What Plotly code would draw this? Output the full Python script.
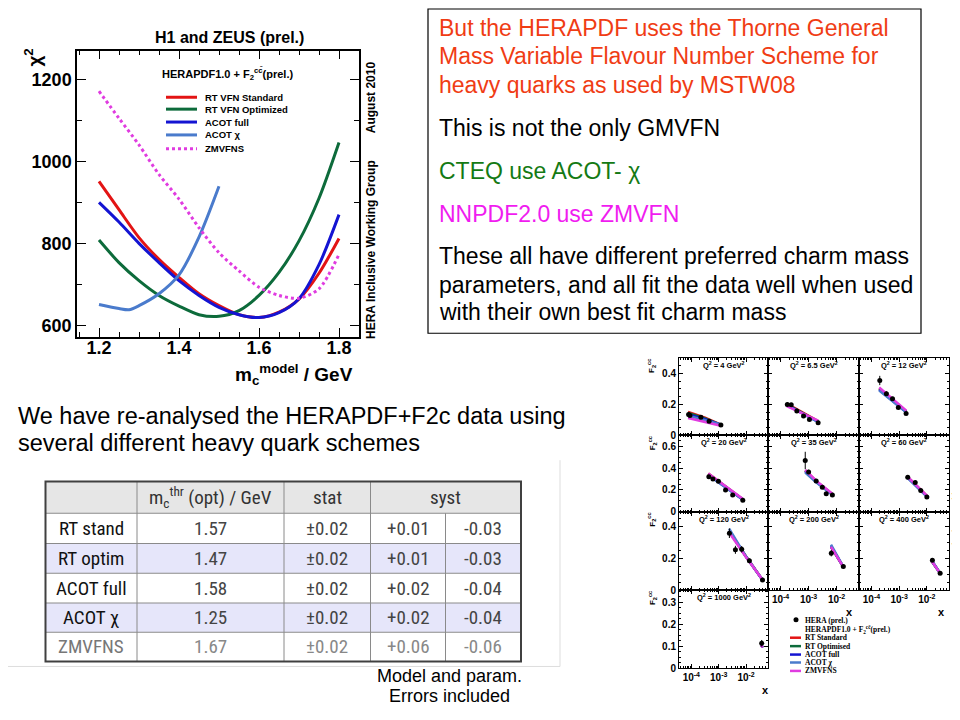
import plotly.graph_objects as go

W, H = 960, 720

def fx(px):
    return px / W

def fy(py):
    return 1 - py / H

# ---------------- main chi2 chart data ----------------
MC_MODEL = [1.20, 1.25, 1.30, 1.35, 1.40, 1.45, 1.50, 1.55, 1.60, 1.65, 1.70, 1.75, 1.80]
CHI2_RT_STANDARD = [951, 882, 814, 761, 717, 677, 648, 626, 619, 632, 664, 727, 812]
CHI2_RT_OPTIMIZED = [808, 753, 709, 673, 647, 626, 622, 636, 673, 729, 806, 910, 1046]
CHI2_ACOT_FULL = [900, 852, 800, 753, 709, 673, 644, 626, 619, 631, 665, 748, 870]
MC_ACOT_CHI = [1.20, 1.25, 1.275, 1.30, 1.35, 1.40, 1.45, 1.50]
CHI2_ACOT_CHI = [651, 641, 638, 648, 677, 723, 815, 939]
CHI2_ZMVFNS = [1171, 1105, 1040, 968, 908, 838, 777, 733, 693, 673, 666, 689, 773]
MAIN_XTICKS = [1.2, 1.4, 1.6, 1.8]
MAIN_YTICKS = [600, 800, 1000, 1200]

SCHEMES = ["RT VFN Standard", "RT VFN Optimized", "ACOT full", "ACOT χ", "ZMVFNS"]
SCHEMES_SHORT = ["RT Standard", "RT Optimised", "ACOT full", "ACOT χ", "ZMVFNS"]
COLORS = ["#e31414", "#0d6b3b", "#1414d2", "#4a7bcc", "#e03ce0"]

# ---------------- table data ----------------
TABLE_HEADER = ["", "m<sub>c</sub><sup>thr</sup> (opt) / GeV", "stat", "syst"]
TABLE_ROWS = ["RT stand", "RT optim", "ACOT full", "ACOT χ", "ZMVFNS"]
MC_OPT = ["1.57", "1.47", "1.58", "1.25", "1.67"]
STAT_ERR = ["±0.02", "±0.02", "±0.02", "±0.02", "±0.02"]
SYST_UP = ["+0.01", "+0.01", "+0.02", "+0.02", "+0.06"]
SYST_DN = ["-0.03", "-0.03", "-0.04", "-0.04", "-0.06"]

# ---------------- F2cc small multiples data ----------------
PANEL_Q2 = ["4", "6.5", "12", "20", "35", "60", "120", "200", "400", "1000"]
DATA_LOGX = [
    [-4.10, -4.05, -3.65, -3.35, -2.92],
    [-3.76, -3.62, -3.42, -3.18, -2.97, -2.66],
    [-3.70, -3.46, -3.24, -3.03, -2.75],
    [-3.36, -3.21, -3.01, -2.75, -2.49, -2.12],
    [-3.12, -3.00, -2.73, -2.51, -2.37, -2.15],
    [-2.69, -2.42, -2.22, -2.00],
    [-2.61, -2.39, -2.16, -1.88, -1.40],
    [-2.19, -1.76],
    [-1.80, -1.52],
    [-1.43],
]
DATA_F2 = [
    [0.135, 0.128, 0.118, 0.092, 0.068],
    [0.200, 0.198, 0.157, 0.125, 0.103, 0.082],
    [0.355, 0.270, 0.237, 0.180, 0.142],
    [0.320, 0.300, 0.280, 0.200, 0.153, 0.106],
    [0.470, 0.365, 0.283, 0.224, 0.165, 0.153],
    [0.316, 0.268, 0.195, 0.135],
    [0.356, 0.252, 0.256, 0.183, 0.064],
    [0.231, 0.148],
    [0.186, 0.106],
    [0.114],
]
DATA_ERR = [
    [0.015, 0.010, 0.010, 0.008, 0.006],
    [0.012, 0.010, 0.010, 0.008, 0.008, 0.007],
    [0.030, 0.015, 0.012, 0.010, 0.010],
    [0.020, 0.015, 0.012, 0.012, 0.010, 0.008],
    [0.080, 0.020, 0.015, 0.012, 0.012, 0.010],
    [0.015, 0.012, 0.010, 0.010],
    [0.030, 0.025, 0.020, 0.015, 0.008],
    [0.020, 0.012],
    [0.010, 0.008],
    [0.015],
]
MODEL_LOGX = [
    [-4.12, -3.50, -2.92],
    [-3.78, -3.20, -2.66],
    [-3.72, -3.20, -2.74],
    [-3.38, -2.75, -2.10],
    [-3.12, -2.73, -2.15],
    [-2.70, -2.00],
    [-2.62, -2.00, -1.40],
    [-2.20, -1.76],
    [-1.82, -1.50],
    [-1.45, -1.40],
]
F2_RT_STANDARD = [
    [0.152, 0.115, 0.070], [0.205, 0.145, 0.092], [0.305, 0.225, 0.155],
    [0.350, 0.230, 0.110], [0.380, 0.280, 0.160], [0.320, 0.145],
    [0.370, 0.210, 0.065], [0.270, 0.145], [0.180, 0.100], [0.110, 0.095],
]
F2_RT_OPTIMIZED = [
    [0.145, 0.110, 0.068], [0.200, 0.142, 0.090], [0.300, 0.222, 0.152],
    [0.345, 0.228, 0.110], [0.375, 0.278, 0.158], [0.318, 0.143],
    [0.370, 0.208, 0.064], [0.272, 0.145], [0.180, 0.100], [0.110, 0.095],
]
F2_ACOT_FULL = [
    [0.135, 0.105, 0.070], [0.198, 0.140, 0.088], [0.295, 0.220, 0.150],
    [0.340, 0.225, 0.108], [0.370, 0.275, 0.155], [0.315, 0.142],
    [0.372, 0.208, 0.063], [0.275, 0.145], [0.182, 0.100], [0.110, 0.095],
]
F2_ACOT_CHI = [
    [0.128, 0.100, 0.070], [0.195, 0.138, 0.088], [0.290, 0.218, 0.150],
    [0.335, 0.222, 0.108], [0.360, 0.270, 0.155], [0.312, 0.140],
    [0.385, 0.210, 0.065], [0.285, 0.145], [0.185, 0.100], [0.110, 0.095],
]
F2_ZMVFNS = [
    [0.112, 0.088, 0.062], [0.190, 0.140, 0.095], [0.310, 0.232, 0.160],
    [0.350, 0.235, 0.115], [0.385, 0.285, 0.165], [0.322, 0.148],
    [0.360, 0.205, 0.065], [0.270, 0.145], [0.180, 0.100], [0.108, 0.095],
]
F2_MODELS = [F2_RT_STANDARD, F2_RT_OPTIMIZED, F2_ACOT_FULL, F2_ACOT_CHI, F2_ZMVFNS]

FONT = "Liberation Sans, Arial, sans-serif"
SERIF = "Liberation Serif, Times New Roman, serif"

fig = go.Figure()
annotations = []
shapes = []

# ---------------- main chart ----------------
main_series = [
    (MC_MODEL, CHI2_RT_STANDARD, "solid"),
    (MC_MODEL, CHI2_RT_OPTIMIZED, "solid"),
    (MC_MODEL, CHI2_ACOT_FULL, "solid"),
    (MC_ACOT_CHI, CHI2_ACOT_CHI, "solid"),
    (MC_MODEL, CHI2_ZMVFNS, "dot"),
]
for (xs, ys, dash), name, col in zip(main_series, SCHEMES, COLORS):
    fig.add_trace(go.Scatter(
        x=xs, y=ys, mode="lines", name=name, showlegend=False,
        line=dict(color=col, width=3, dash=dash, shape="spline", smoothing=0.8),
        xaxis="x", yaxis="y"))

layout_axes = {}
layout_axes["xaxis"] = dict(
    domain=[fx(69), fx(351)], anchor="y", range=[1.145, 1.85],
    tickvals=MAIN_XTICKS, ticktext=[f"<b>{v:.1f}</b>" for v in MAIN_XTICKS],
    ticks="inside", ticklen=9, tickwidth=1.2, tickcolor="black",
    minor=dict(dtick=0.05, ticks="inside", ticklen=5, tickcolor="black"),
    showline=True, linecolor="black", linewidth=1.5, mirror="allticks",
    showgrid=False, zeroline=False, ticklabelstandoff=-7,
    tickfont=dict(family=FONT, size=18, color="black"))
layout_axes["yaxis"] = dict(
    domain=[fy(332), fy(43)], anchor="x", range=[571, 1270],
    tickvals=MAIN_YTICKS, ticktext=[f"<b>{v}</b>" for v in MAIN_YTICKS],
    ticks="inside", ticklen=9, tickwidth=1.2, tickcolor="black",
    minor=dict(dtick=100, ticks="inside", ticklen=5, tickcolor="black"),
    showline=True, linecolor="black", linewidth=1.5, mirror="allticks",
    showgrid=False, zeroline=False,
    tickfont=dict(family=FONT, size=18, color="black"))

def ann(px, py, text, size, color="black", xanchor="center", yanchor="middle",
        angle=0, family=FONT, bold=False):
    annotations.append(dict(
        x=fx(px), y=fy(py), xref="paper", yref="paper",
        text=f"<b>{text}</b>" if bold else text, showarrow=False,
        xanchor=xanchor, yanchor=yanchor, textangle=angle,
        font=dict(family=family, size=size, color=color)))

ann(221, 30, "H1 and ZEUS (prel.)", 16, bold=True)
ann(25, 50, "χ<sup>2</sup>", 19, angle=-90, bold=True)
ann(347, 370, "m<sub>c</sub><sup>model</sup> / GeV", 19, xanchor="right", bold=True)
ann(363, 90, "August 2010", 12, angle=-90, bold=True)
ann(363, 244, "HERA Inclusive Working Group", 12, angle=-90, bold=True)
ann(219, 67, "HERAPDF1.0 + F<sub>2</sub><sup>cc\u0304</sup>(prel.)", 11, bold=True)

legend_y = [90, 102, 115, 128, 142]
for i, (name, col) in enumerate(zip(SCHEMES, COLORS)):
    shapes.append(dict(type="line", xref="paper", yref="paper",
                       x0=fx(158), x1=fx(189), y0=fy(legend_y[i]), y1=fy(legend_y[i]),
                       line=dict(color=col, width=3, dash="dot" if i == 4 else "solid")))
    ann(195, legend_y[i], name, 9.5, xanchor="left", bold=True)

# ---------------- text box ----------------
shapes.append(dict(type="rect", xref="paper", yref="paper",
                   x0=fx(420), x1=fx(913), y0=fy(1), y1=fy(328),
                   line=dict(color="black", width=1.2), fillcolor="rgba(0,0,0,0)"))
RED_TXT = "#f03c14"
GREEN_TXT = "#147a14"
MAG_TXT = "#f01cf0"
box_lines = [
    (20, "But the HERAPDF uses the Thorne General", RED_TXT),
    (48, "Mass Variable Flavour Number Scheme for", RED_TXT),
    (77.5, "heavy quarks as used by MSTW08", RED_TXT),
    (121, "This is not the only GMVFN", "black"),
    (164, "CTEQ use ACOT- χ", GREEN_TXT),
    (208, "NNPDF2.0 use ZMVFN", MAG_TXT),
    (250.5, "These all have different preferred charm mass", "black"),
    (279.5, "parameters, and all fit the data well when used", "black"),
    (307, "with their own best fit charm mass", "black"),
]
for py, t, c in box_lines:
    ann(429, py, t, 23, color=c, xanchor="left")

ann(8, 411, "We have re-analysed the HERAPDF+F2c data using", 23.5, xanchor="left")
ann(8, 439, "several different heavy quark schemes", 23.5, xanchor="left")

ann(441, 674, "Model and param.", 18)
ann(441, 694, "Errors included", 18)

# ---------------- table ----------------
shapes.append(dict(type="line", xref="paper", yref="paper", x0=fx(552), x1=fx(552),
                   y0=fy(456), y1=fy(664), line=dict(color="#dddddd", width=1)))
shapes.append(dict(type="line", xref="paper", yref="paper", x0=fx(0), x1=fx(552),
                   y0=fy(664), y1=fy(664), line=dict(color="#dddddd", width=1)))

TCOLS = [37.5, 129, 276, 362.5, 437.5, 513]
TROWS = [477.5, 509.5, 540, 570, 600, 629.5, 659]
row_fill = ["#e6e6e6", "#ffffff", "#e6e6fa", "#ffffff", "#e6e6fa", "#ffffff"]
for r in range(6):
    shapes.append(dict(type="rect", xref="paper", yref="paper",
                       x0=fx(TCOLS[0]), x1=fx(TCOLS[-1]), y0=fy(TROWS[r]), y1=fy(TROWS[r + 1]),
                       line=dict(width=0), fillcolor=row_fill[r], layer="below"))
for r in range(1, 6):
    shapes.append(dict(type="line", xref="paper", yref="paper",
                       x0=fx(TCOLS[0]), x1=fx(TCOLS[-1]), y0=fy(TROWS[r]), y1=fy(TROWS[r]),
                       line=dict(color="#8a8a8a", width=1)))
for ci, cx in enumerate(TCOLS[1:-1], start=1):
    top = TROWS[1] if ci == 4 else TROWS[0]
    shapes.append(dict(type="line", xref="paper", yref="paper",
                       x0=fx(cx), x1=fx(cx), y0=fy(top), y1=fy(TROWS[-1]),
                       line=dict(color="#8a8a8a", width=1)))
shapes.append(dict(type="rect", xref="paper", yref="paper",
                   x0=fx(TCOLS[0]), x1=fx(TCOLS[-1]), y0=fy(TROWS[0]), y1=fy(TROWS[-1]),
                   line=dict(color="#404040", width=2), fillcolor="rgba(0,0,0,0)"))

TFONT = "Liberation Sans Narrow, Roboto Condensed, Liberation Sans, Arial, sans-serif"
hdr_y = (TROWS[0] + TROWS[1]) / 2
ann((TCOLS[1] + TCOLS[2]) / 2, hdr_y, TABLE_HEADER[1], 19, color="#333333", family=TFONT)
ann((TCOLS[2] + TCOLS[3]) / 2, hdr_y, TABLE_HEADER[2], 19, color="#333333", family=TFONT)
ann((TCOLS[3] + TCOLS[5]) / 2, hdr_y, TABLE_HEADER[3], 19, color="#333333", family=TFONT)
for r in range(5):
    cy = (TROWS[r + 1] + TROWS[r + 2]) / 2
    lab_col = "#777777" if r == 4 else "#111111"
    num_col = "#888888" if r == 4 else "#444444"
    cells = [TABLE_ROWS[r], MC_OPT[r], STAT_ERR[r], SYST_UP[r], SYST_DN[r]]
    for c in range(5):
        ann((TCOLS[c] + TCOLS[c + 1]) / 2, cy, cells[c], 19,
            color=lab_col if c == 0 else num_col, family=TFONT)

# ---------------- small multiples ----------------
COLS = [(671, 760), (760, 851), (851, 941)]
ROWS = [(353, 431), (431, 508), (508, 587), (587, 666)]
PANEL_POS = [(0, 0), (0, 1), (0, 2), (1, 0), (1, 1), (1, 2), (2, 0), (2, 1), (2, 2), (3, 0)]
ROW_YMAX = [0.5, 0.7, 0.49, 0.355]
ROW_TICKS = [[0, 0.2, 0.4], [0, 0.2, 0.4, 0.6], [0, 0.2, 0.4], [0, 0.1, 0.2, 0.3]]
ROW_MINOR = [0.05, 0.05, 0.05, 0.025]
XLABEL_PANELS = [7, 8, 9]
XTICKS = [1e-4, 1e-3, 1e-2]
XTICKTEXT = ["<b>10<sup>-4</sup></b>", "<b>10<sup>-3</sup></b>", "<b>10<sup>-2</sup></b>"]

for k, (r, c) in enumerate(PANEL_POS):
    n = k + 2
    xa, ya = f"x{n}", f"y{n}"
    x0, x1 = COLS[c]
    y0, y1 = ROWS[r]
    layout_axes[f"xaxis{n}"] = dict(
        domain=[fx(x0), fx(x1)], anchor=ya, type="log", range=[-4.45, -1.2],
        tickvals=XTICKS, ticktext=XTICKTEXT, showticklabels=(k in XLABEL_PANELS),
        ticks="inside", ticklen=4, tickcolor="black",
        minor=dict(ticks="inside", ticklen=2, tickcolor="black", dtick="D1"),
        showline=True, linecolor="black", linewidth=1, mirror="allticks",
        showgrid=False, zeroline=False,
        tickfont=dict(family=FONT, size=10, color="black"))
    layout_axes[f"yaxis{n}"] = dict(
        domain=[fy(y1), fy(y0)], anchor=xa, range=[0, ROW_YMAX[r]],
        tickvals=ROW_TICKS[r], ticktext=[f"<b>{v:g}</b>" for v in ROW_TICKS[r]],
        showticklabels=(c == 0),
        ticks="inside", ticklen=4, tickcolor="black",
        minor=dict(dtick=ROW_MINOR[r], ticks="inside", ticklen=2, tickcolor="black"),
        showline=True, linecolor="black", linewidth=1, mirror="allticks",
        showgrid=False, zeroline=False,
        tickfont=dict(family=FONT, size=10, color="black"))
    for m in range(5):
        fig.add_trace(go.Scatter(
            x=[10 ** v for v in MODEL_LOGX[k]], y=F2_MODELS[m][k], mode="lines",
            showlegend=False, line=dict(color=COLORS[m], width=2.5),
            xaxis=xa, yaxis=ya))
    fig.add_trace(go.Scatter(
        x=[10 ** v for v in DATA_LOGX[k]], y=DATA_F2[k], mode="markers", showlegend=False,
        marker=dict(color="black", size=5),
        error_y=dict(type="data", array=DATA_ERR[k], color="black", thickness=1, width=0),
        xaxis=xa, yaxis=ya))
    ann((x0 + x1) / 2, y0 + 7, f"Q<sup>2</sup> = {PANEL_Q2[k]} GeV<sup>2</sup>", 7.5, bold=True)
    if c == 0:
        ann(644, y0 + 8, "F<sub>2</sub><sup>cc</sup>", 8, angle=-90, bold=True)

ann(841, 609, "x", 11, bold=True)
ann(933, 609, "x", 11, bold=True)
ann(757, 688, "x", 11, bold=True)
ann(948, 386, "August 2010", 9, angle=-90, bold=True)
ann(948, 515, "HERA Inclusive Working Group", 9, angle=-90, bold=True)

# small-multiples legend
fig.add_trace(go.Scatter(x=[0.5], y=[0.5], mode="markers", showlegend=False,
                         marker=dict(color="black", size=5), xaxis="x12", yaxis="y12"))
layout_axes["xaxis12"] = dict(domain=[fx(784), fx(792)], range=[0, 1], visible=False, anchor="y12")
layout_axes["yaxis12"] = dict(domain=[fy(621), fy(613)], range=[0, 1], visible=False, anchor="x12")
ann(795, 618, "HERA (prel.)", 7.5, xanchor="left", family=SERIF, bold=True)
ann(795, 627, "HERAPDF1.0 + F<sub>2</sub><sup>cc\u0304</sup>(prel.)", 7.5, xanchor="left", family=SERIF, bold=True)
sm_leg_y = [635, 643.5, 652, 660, 668.5]
for i in range(5):
    shapes.append(dict(type="line", xref="paper", yref="paper",
                       x0=fx(782), x1=fx(793), y0=fy(sm_leg_y[i]), y1=fy(sm_leg_y[i]),
                       line=dict(color=COLORS[i], width=2.5)))
    ann(795, sm_leg_y[i], SCHEMES_SHORT[i], 7.5, xanchor="left", family=SERIF, bold=True)

fig.update_layout(
    width=W, height=H, margin=dict(l=0, r=0, t=0, b=0),
    paper_bgcolor="white", plot_bgcolor="white",
    annotations=annotations, shapes=shapes, showlegend=False,
    **layout_axes)

fig.write_html("out.html")
